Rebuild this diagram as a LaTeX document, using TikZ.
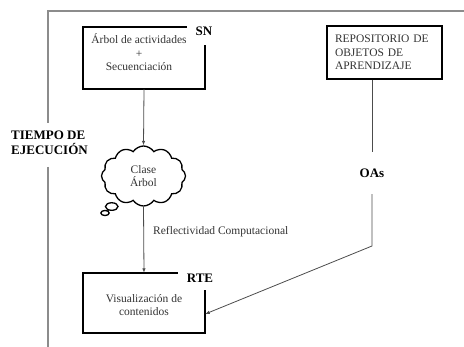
\documentclass[tikz,border=0pt]{standalone}
\usepackage{fontspec}
\setmainfont{Liberation Serif}
\usetikzlibrary{arrows.meta,shapes.symbols,shapes.callouts}
\tikzset{
  bordergray/.style={draw=black!45,line width=1.4pt},
  partbox/.style={line width=1.6pt,draw=black},
  boxtext/.style={text=black!80,font=\fontsize{11.5}{13.5}\selectfont,align=center,inner sep=0pt},
  boldlabel/.style={font=\fontsize{13}{15}\selectfont\bfseries,inner sep=0pt},
  conn/.style={draw=black!70,line width=0.8pt},
  arr/.style={conn,-{Latex[length=4.5pt,width=3.5pt]}},
}
\begin{document}
\begin{tikzpicture}[x=1pt,y=-1pt]
\useasboundingbox (0,0) rectangle (464,347);
% outer frame
\draw[bordergray] (464,11) -- (48,11) -- (48,123);
\draw[bordergray] (48,167) -- (48,347);
\node[boldlabel,anchor=west,align=left] (tiempo) at (11,143) {TIEMPO DE\\EJECUCIÓN};
% SN box
\node[minimum width=122,minimum height=62,inner sep=0] (sn) at (144,58) {};
\draw[partbox] ([xshift=104]sn.north west) -- (sn.north west) -- (sn.south west) -- (sn.south east) -- ([yshift=-18]sn.north east);
\node[boxtext] (sntext) at (139,52.5) {Árbol de actividades\\+\\Secuenciación};
\node[boldlabel] (snlabel) at (204,31) {SN};
% cloud
\node[cloud callout,draw=black,line width=1.3pt,cloud puffs=12,cloud puff arc=115,aspect=1.4,
      minimum width=84,minimum height=60,inner sep=0,
      callout absolute pointer={(105,213)},callout pointer segments=2,
      boxtext] (cloud) at (143.5,176) {Clase\\Árbol};
\draw[arr] (sn.south) -- (cloud.north);
% RTE box
\node[minimum width=122,minimum height=60,inner sep=0] (rte) at (144,303) {};
\draw[partbox] ([xshift=95]rte.north west) -- (rte.north west) -- (rte.south west) -- (rte.south east) -- ([yshift=-17]rte.north east);
\node[boxtext] (rtetext) at (144,305) {Visualización de\\contenidos};
\node[boldlabel] (rtelabel) at (200,278) {RTE};
\draw[arr] (cloud.south) -- (rte.north);
\node[boxtext,anchor=west] (refl) at (153,232) {Reflectividad Computacional};
% repository
\node[draw=black,line width=1.6pt,minimum width=115,minimum height=53,inner xsep=8,inner ysep=0,
      text width=99,align=left,text=black!80,font=\fontsize{11.5}{13.5}\selectfont] (repo) at (384.5,52.5)
      {REPOSITORIO DE\\OBJETOS DE\\APRENDIZAJE};
\node[boldlabel,minimum height=42] (oas) at (372,173) {OAs};
\draw[conn] (oas.north |- repo.south) -- (oas.north);
\coordinate (bend) at (372,246);
\draw[arr] (oas.south) -- (bend) -- ([yshift=-11]rte.east);
\end{tikzpicture}
\end{document}
